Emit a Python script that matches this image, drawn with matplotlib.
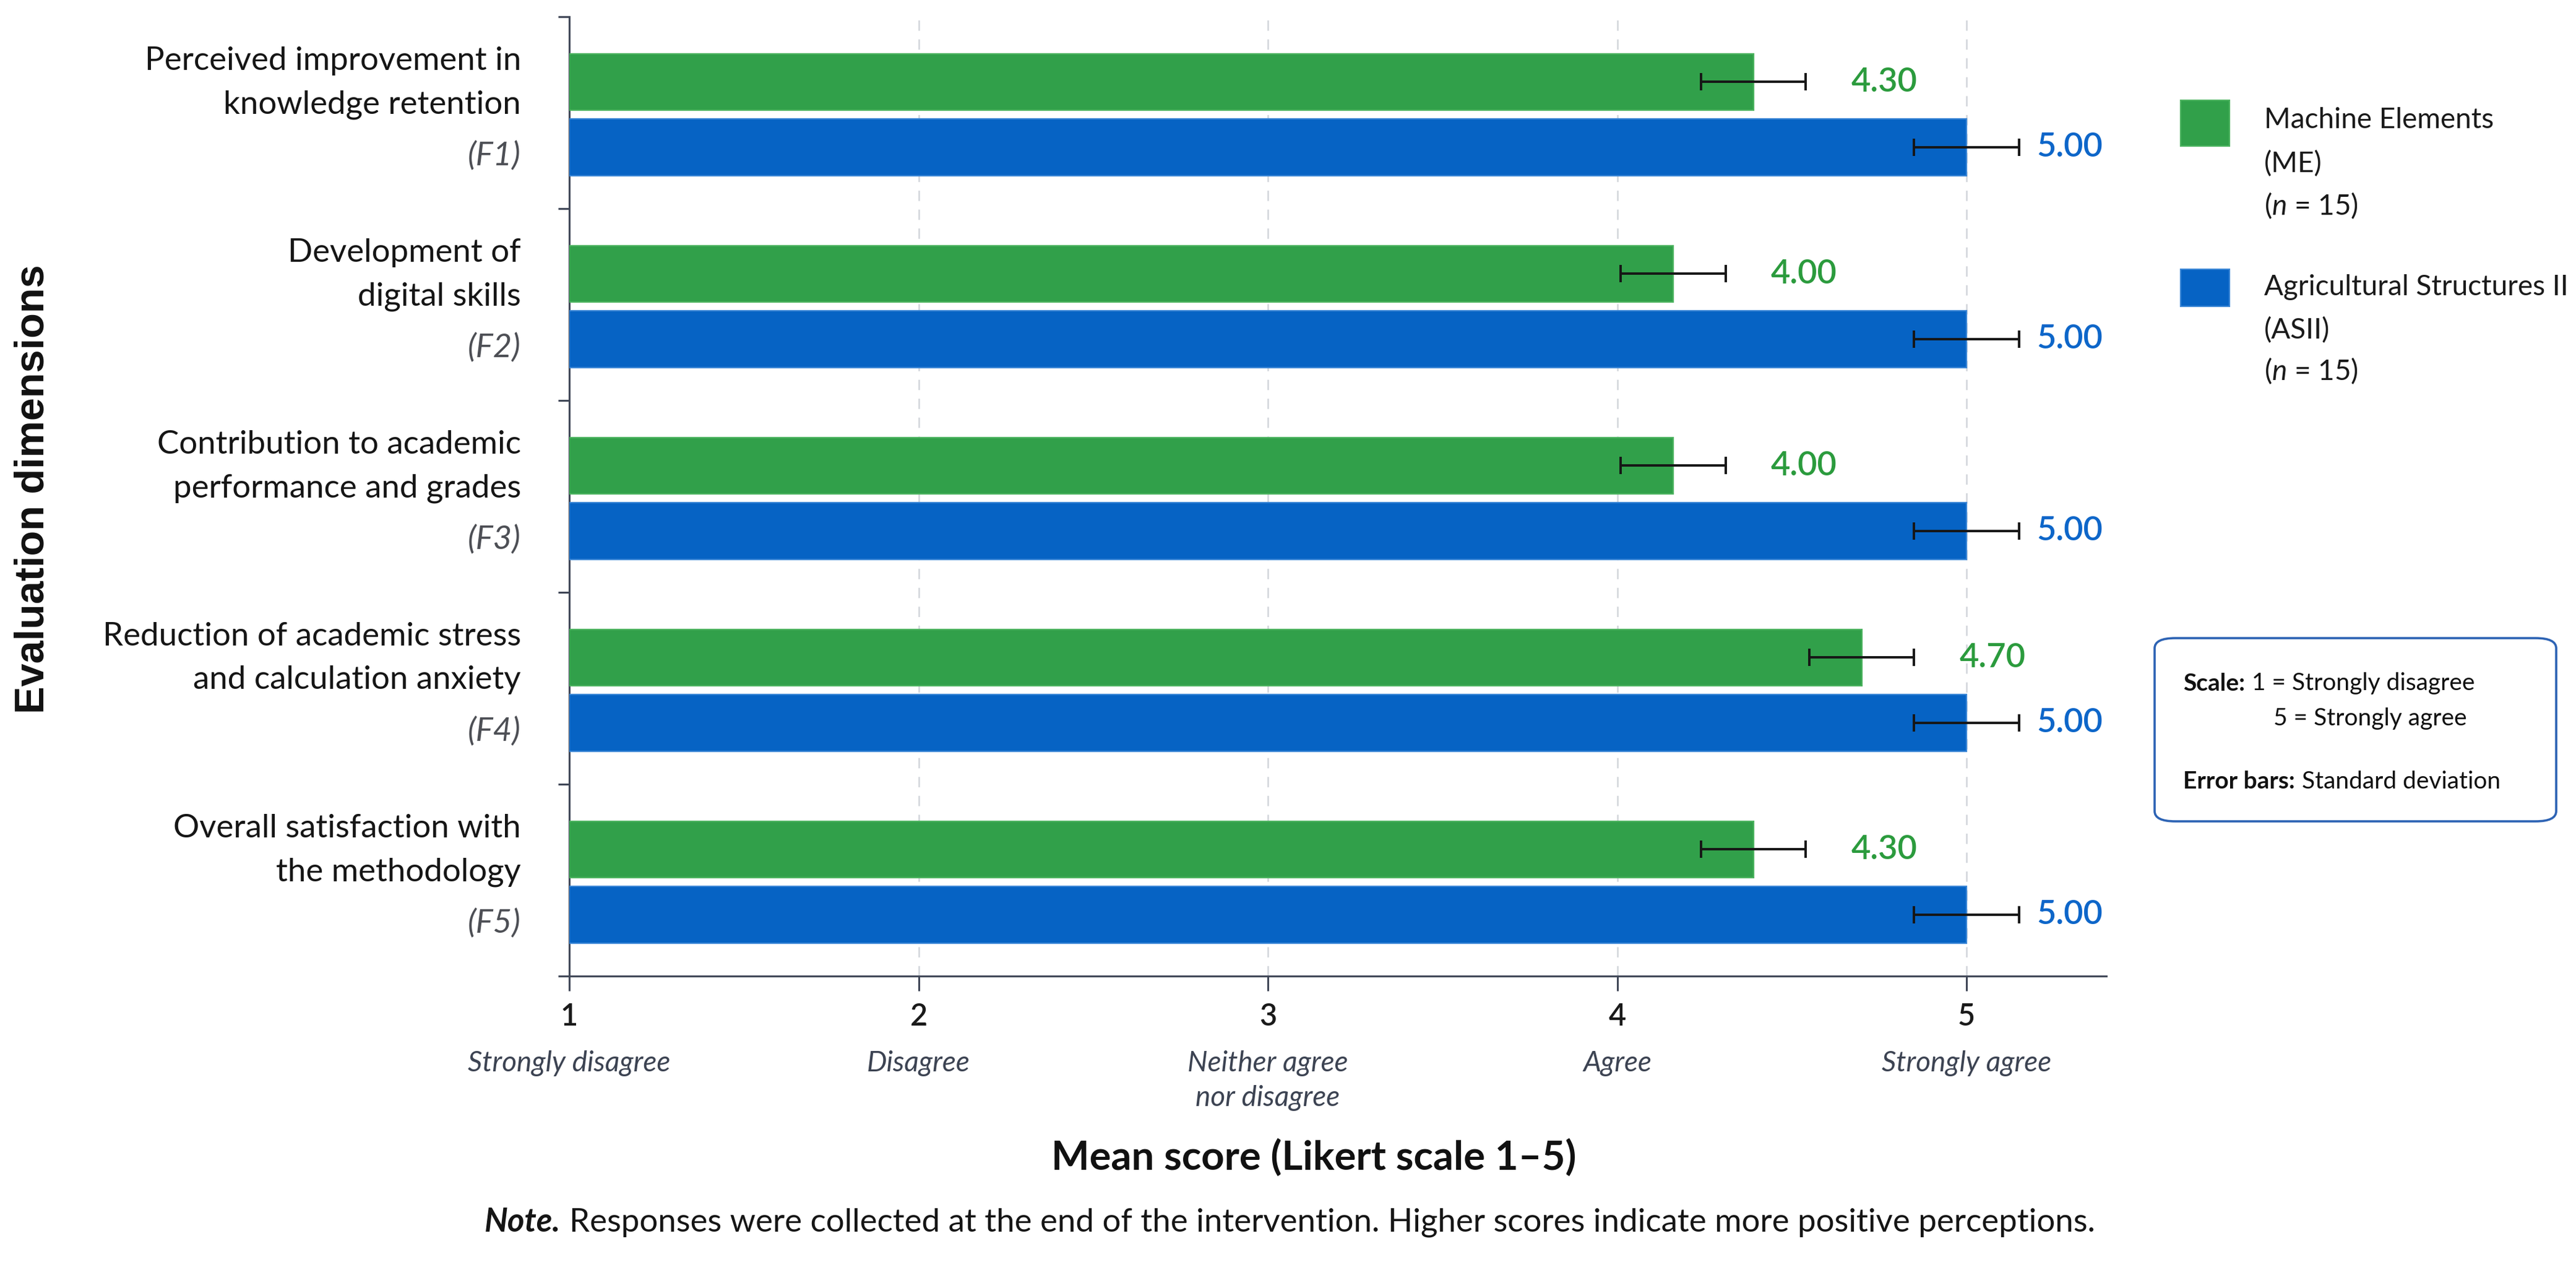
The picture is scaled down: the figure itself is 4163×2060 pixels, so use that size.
import numpy as np
import matplotlib
matplotlib.use("Agg")
import matplotlib.pyplot as plt
from matplotlib.patches import Rectangle, FancyBboxPatch
from matplotlib.transforms import blended_transform_factory

# data
factor_lines = [
    ("Perceived improvement in", "knowledge retention"),
    ("Development of", "digital skills"),
    ("Contribution to academic", "performance and grades"),
    ("Reduction of academic stress", "and calculation anxiety"),
    ("Overall satisfaction with", "the methodology"),
]
factor_codes = ["(F1)", "(F2)", "(F3)", "(F4)", "(F5)"]

# bar ends as drawn in the figure, and the printed value labels
me_means = [4.39, 4.16, 4.16, 4.70, 4.39]
me_sd = [0.15, 0.15, 0.15, 0.15, 0.15]
me_labels = ["4.30", "4.00", "4.00", "4.70", "4.30"]

asii_means = [5.00, 5.00, 5.00, 5.00, 5.00]
asii_sd = [0.15, 0.15, 0.15, 0.15, 0.15]
asii_labels = ["5.00", "5.00", "5.00", "5.00", "5.00"]

likert_ticks = [1, 2, 3, 4, 5]
likert_names = ["Strongly disagree", "Disagree", "Neither agree\nnor disagree",
                "Agree", "Strongly agree"]

GREEN = "#31a04a"
BLUE = "#0663c4"
GREEN_TXT = "#2b9b3d"
BLUE_TXT = "#0d66c9"
SPINE = "#414858"

plt.rcParams["font.family"] = ["Lato", "DejaVu Sans"]
plt.rcParams["mathtext.fontset"] = "custom"
plt.rcParams["mathtext.rm"] = "Lato"
plt.rcParams["mathtext.it"] = "Lato:italic"
plt.rcParams["mathtext.bf"] = "Lato:bold"

W, H = 4163, 2060
fig = plt.figure(figsize=(W / 200, H / 200), dpi=200, facecolor="white")
renderer = fig.canvas.get_renderer()


def fx(px):
    return px / W


def fy(py):
    return 1 - py / H


def text_runs(x_px, y_px, parts, align="left", gap_px=12, **kw):
    # draw pieces of differently styled text side by side on one line
    texts = [fig.text(0, fy(y_px), s, ha="left", va="center", **kw, **props)
             for s, props in parts]
    widths = [t.get_window_extent(renderer).width for t in texts]
    total = sum(widths) + gap_px * (len(texts) - 1)
    start = x_px - total / 2 if align == "center" else x_px
    for t, w in zip(texts, widths):
        t.set_x(fx(start))
        start += w + gap_px


# axes box measured in pixels: x 920..3404, y 27..1577
ax = fig.add_axes([fx(920), fy(1577), fx(3404 - 920), (1577 - 27) / H])

y = np.arange(len(factor_lines))
bar_h = 0.295
me_pos = y - 0.16
asii_pos = y + 0.18

err_kw = dict(ecolor="#161616", elinewidth=1.4, capsize=5, capthick=1.4)
ax.barh(me_pos, np.array(me_means) - 1, left=1, height=bar_h, color=GREEN,
        edgecolor="#4cb35f", linewidth=0.8, xerr=me_sd, error_kw=err_kw, zorder=3)
ax.barh(asii_pos, np.array(asii_means) - 1, left=1, height=bar_h, color=BLUE,
        edgecolor="#3a86d6", linewidth=0.8, xerr=asii_sd, error_kw=err_kw, zorder=3)

for i in range(len(y)):
    ax.text(me_means[i] + 0.28, me_pos[i], me_labels[i], color=GREEN_TXT,
            fontsize=19.5, fontweight="semibold", ha="left", va="center")
    ax.text(asii_means[i] + 0.20, asii_pos[i], asii_labels[i], color=BLUE_TXT,
            fontsize=19.5, fontweight="semibold", ha="left", va="center")

ax.set_xlim(1, 5.4)
ax.set_ylim(4.5, -0.5)

# group separators as y ticks, no labels
ax.set_yticks(np.arange(-0.5, 5, 1.0))
ax.set_yticklabels([])
ax.tick_params(axis="y", length=6.5, width=1.1, color=SPINE, direction="out")

ax.set_xticks(likert_ticks)
ax.set_xticklabels([str(t) for t in likert_ticks], fontsize=17.5,
                   fontweight="semibold", color="#1a1a1a")
ax.tick_params(axis="x", length=8.6, width=1.1, color=SPINE, pad=7)

ax.grid(axis="x", linestyle=(0, (6, 5)), color="#d6d9de", linewidth=1.0, zorder=0)
ax.set_axisbelow(True)

for side in ["top", "right"]:
    ax.spines[side].set_visible(False)
for side in ["left", "bottom"]:
    ax.spines[side].set_color(SPINE)
    ax.spines[side].set_linewidth(1.1)

# multi-line category labels on the left
ytrans = blended_transform_factory(ax.transAxes, ax.transData)
lab_x = (842 - 920) / (3404 - 920)
for i, (l1, l2) in enumerate(factor_lines):
    ax.text(lab_x, i - 0.27, l1, transform=ytrans, ha="right", va="center",
            fontsize=19, color="#151515")
    ax.text(lab_x, i - 0.042, l2, transform=ytrans, ha="right", va="center",
            fontsize=19, color="#151515")
    ax.text(lab_x, i + 0.226, factor_codes[i], transform=ytrans, ha="right",
            va="center", fontsize=19, style="italic", color="#4d4f55")

# likert anchor names under the ticks
xtrans = blended_transform_factory(ax.transData, ax.transAxes)
for t, name in zip(likert_ticks, likert_names):
    ax.text(t, -(1697 - 1577) / 1550, name, transform=xtrans, ha="center",
            va="top", fontsize=16.5, style="italic", color="#3c4352",
            linespacing=1.4)

# axis titles
fig.text(fx(2123), fy(1870), "Mean score (Likert scale 1\u20135)", ha="center",
         va="center", fontsize=23.5, fontweight="bold", color="#111111")
fig.text(fx(54), fy(790), "Evaluation dimensions", rotation=90, ha="center",
         va="center", fontsize=24, fontweight="bold", color="#111111",
         family=["Liberation Sans", "DejaVu Sans"])

# note under the chart
text_runs(2084, 1975,
          [("Note.", dict(fontweight="bold", style="italic")),
           ("Responses were collected at the end of the intervention. "
            "Higher scores indicate more positive perceptions.", {})],
          align="center", gap_px=14, fontsize=19, color="#151515")

# legend built by hand
legend_items = [
    (GREEN, "#4cb35f", 162, 236, ["Machine Elements", "(ME)"], [194, 265, 332]),
    (BLUE, "#3a86d6", 435, 495, ["Agricultural Structures II", "(ASII)"], [464, 534, 599]),
]
for col, edge, top, bot, lines, ys in legend_items:
    fig.patches.append(Rectangle((fx(3524), fy(bot)), fx(3603 - 3524), (bot - top) / H,
                                 transform=fig.transFigure, facecolor=col,
                                 edgecolor=edge, linewidth=0.8))
    for txt, ly in zip(lines, ys[:2]):
        fig.text(fx(3659), fy(ly), txt, ha="left", va="center", fontsize=16.5,
                 color="#1a1a1a")
    fig.text(fx(3659), fy(ys[2]), r"($\it{n}$ = 15)", ha="left", va="center",
             fontsize=16.5, color="#1a1a1a")

# scale / error bar info box
box = FancyBboxPatch((fx(3482), fy(1327)), fx(4131 - 3482), (1327 - 1031) / H,
                     boxstyle="round,pad=0,rounding_size=0.008",
                     transform=fig.transFigure, facecolor="white",
                     edgecolor="#2d63b4", linewidth=1.3)
fig.patches.append(box)
box_kw = dict(fontsize=14, color="#111111")
text_runs(3528, 1104, [("Scale:", dict(fontweight="bold")),
                       ("1 = Strongly disagree", {})], gap_px=11, **box_kw)
fig.text(fx(3674), fy(1161), "5 = Strongly agree", ha="left", va="center", **box_kw)
text_runs(3528, 1263, [("Error bars:", dict(fontweight="bold")),
                       ("Standard deviation", {})], gap_px=11, **box_kw)

fig.savefig("out.png", dpi=200, facecolor="white")
